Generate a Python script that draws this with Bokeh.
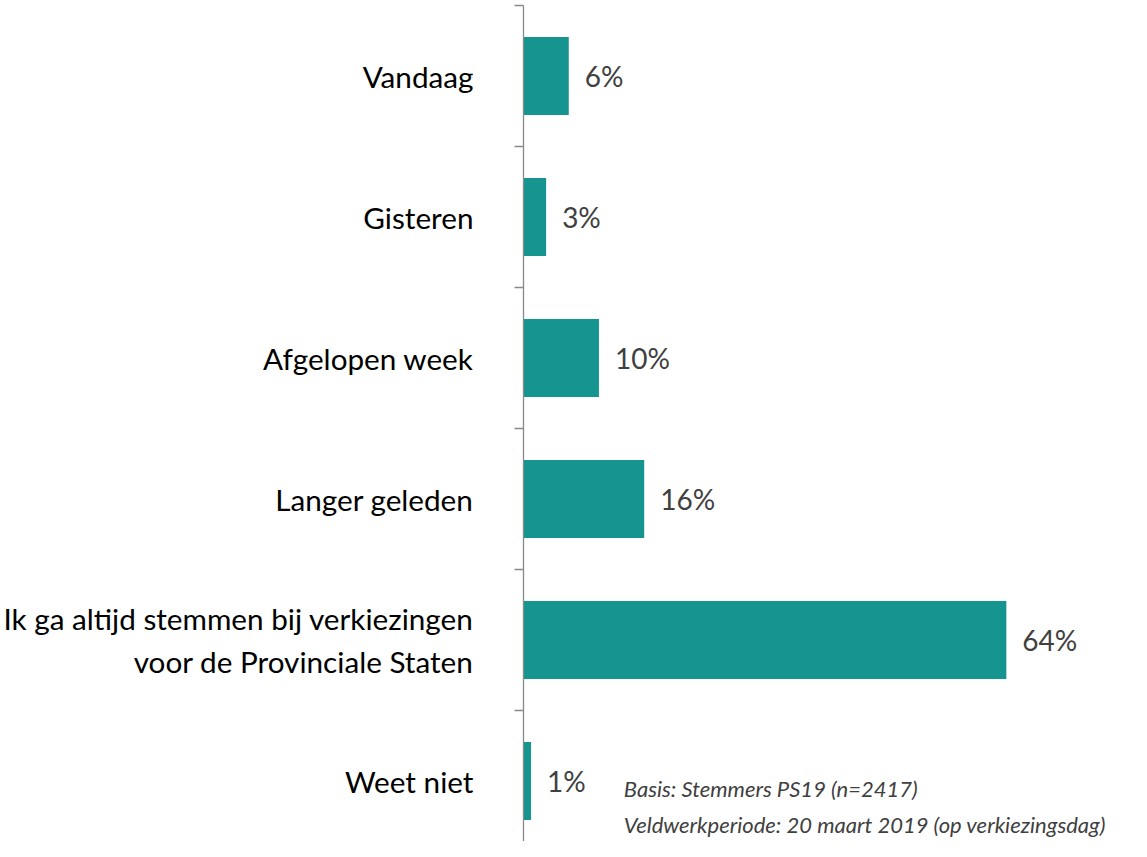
from bokeh.plotting import figure
from bokeh.models import Range1d, FixedTicker, ColumnDataSource, Label
from bokeh.embed import file_html
from bokeh.resources import INLINE
from bokeh.core.properties import value

categories = ["Vandaag", "Gisteren", "Afgelopen week", "Langer geleden",
              "Ik ga altijd stemmen bij verkiezingen\nvoor de Provinciale Staten", "Weet niet"]
values = [6, 3, 10, 16, 64, 1]
notes = ["Basis: Stemmers PS19 (n=2417)",
         "Veldwerkperiode: 20 maart 2019 (op verkiezingsdag)"]

FONT = "Lato"
BAR = "#159490"

idx = list(range(len(categories)))
src = ColumnDataSource(dict(y=idx, v=values, lab=[f"{v}%" for v in values]))

p = figure(width=1131, height=841, output_backend="svg", toolbar_location=None,
           x_range=Range1d(0, 612 / 7.594), y_range=Range1d(-0.5 + 836 / 141, -0.5),
           x_axis_location=None, min_border_left=519, min_border_right=0,
           min_border_top=5, min_border_bottom=0)
p.outline_line_color = None
p.grid.visible = False
p.background_fill_color = "white"
p.border_fill_color = "white"

p.hbar(y="y", right="v", left=0, height=0.553, source=src, fill_color=BAR, line_color=None)
p.text(x="v", y="y", text="lab", source=src, x_offset=16, text_baseline="middle",
       text_align="left", text_font=value(FONT), text_font_size="28px", text_color="#404040")

ax = p.yaxis[0]
ax.ticker = FixedTicker(ticks=idx, minor_ticks=[i - 0.5 for i in range(len(categories) + 1)])
ax.major_label_overrides = {i: c for i, c in zip(idx, categories)}
ax.major_tick_out = 0
ax.major_tick_in = 0
ax.minor_tick_out = 9
ax.minor_tick_in = 0
ax.axis_line_color = "#898989"
ax.axis_line_width = 1.3
ax.minor_tick_line_color = "#898989"
ax.minor_tick_line_width = 1.3
ax.major_label_standoff = 41
ax.major_label_text_font = FONT
ax.major_label_text_font_size = "29.7px"
ax.major_label_text_line_height = 1.25
ax.major_label_text_color = "black"

for i, t in enumerate(notes):
    p.add_layout(Label(x=(620 - 519) / 7.594, y=-0.5 + (783 + 36 * i) / 141, text=t,
                       text_font=FONT, text_font_style="italic", text_font_size="22px",
                       text_color="#404040", text_baseline="middle", text_align="left"))

open("out.html", "w").write(file_html(p, INLINE))
